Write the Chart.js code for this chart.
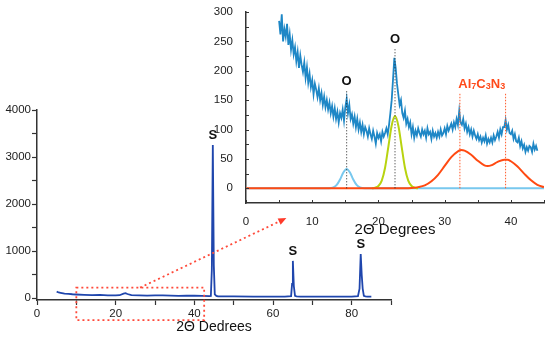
<!DOCTYPE html>
<html lang="en">
<head>
<meta charset="UTF-8">
<title>XRD pattern</title>
<script src="https://cdn.jsdelivr.net/npm/chart.js"></script>
<style>
    body { margin: 0; background: #fff; }
    .wrap { position: relative; width: 550px; height: 337px; overflow: hidden; }
    #mainChart { position: absolute; left: 0; top: 0; }
    #insetChart { position: absolute; left: 200px; top: 0; }
</style>
</head>
<body>
<div class="wrap">
    <canvas id="mainChart" width="550" height="337"></canvas>
    <canvas id="insetChart" width="350" height="240"></canvas>
</div>
<script>
// full pattern (2-theta, counts)
var mainAngle = [5, 5.5, 6, 7, 8, 9, 10, 12, 14, 16, 18, 20, 21, 22, 22.5, 23, 24, 26, 28, 30, 32, 34, 36, 38, 40, 42,
    43.8, 44.2, 44.45, 44.7, 44.95, 45.2, 45.6, 46, 48, 50, 55, 60, 63,
    64.6, 64.85, 65.05, 65.3, 65.6, 66, 67, 70, 75, 80,
    81.6, 82.0, 82.3, 82.55, 82.8, 83.1, 83.5, 84, 85];
var mainCounts = [135, 118, 110, 95, 88, 80, 75, 68, 62, 65, 55, 55, 60, 95, 105, 85, 60, 55, 50, 55, 55, 50, 45, 50, 48, 45,
    40, 45, 600, 3255, 700, 80, 45, 38, 35, 35, 30, 30, 30,
    40, 300, 790, 250, 45, 35, 30, 30, 30, 30,
    40, 200, 935, 500, 200, 45, 35, 30, 30];
var mainXTicks = [0, 10, 20, 30, 40, 50, 60, 70, 80, 90];
var mainXLabels = [0, 20, 40, 60, 80];
var mainYTicks = [0, 500, 1000, 1500, 2000, 2500, 3000, 3500, 4000];
var mainYLabels = [0, 1000, 2000, 3000, 4000];
var sPeakAngle = [44.7, 65.05, 82.3];
var sPeakCounts = [3255, 790, 935];
// zoom box and arrow, in main chart units
var boxAngle = [10, 42.5];
var boxCounts = [-470, 220];
var arrowAngle = [26.2, 63.4];
var arrowCounts = [220, 1700];

// inset: low angle region, step 0.2 from 5
var insetStart = 5, insetStep = 0.2;
var insetCounts = [
    285, 262, 296, 250, 271, 258, 280, 244, 262, 236,
    252, 228, 240, 216, 232, 205, 226, 210, 198, 214,
    188, 206, 180, 195, 172, 184, 160, 178, 168, 155,
    170, 150, 162, 142, 156, 138, 150, 134, 146, 128,
    140, 122, 136, 118, 130, 112, 128, 120, 134, 115,
    138, 152, 128, 142, 118, 126, 110, 122, 104, 118,
    100, 112, 96, 108, 92, 104, 98, 88, 102, 92,
    84, 98, 88, 76, 94, 86, 92, 80, 96, 88,
    94, 102, 92, 108, 128, 150, 185, 222, 205, 178,
    160, 142, 150, 128, 120, 132, 110, 118, 104, 112,
    92, 104, 86, 98, 90, 102, 94, 88, 100, 92,
    98, 86, 102, 92, 96, 84, 98, 88, 94, 86,
    96, 88, 100, 90, 94, 102, 92, 106, 98, 104,
    110, 100, 112, 104, 118, 108, 132, 112, 108, 118,
    102, 110, 96, 104, 92, 100, 88, 98, 90, 84,
    92, 82, 88, 78, 86, 80, 90, 76, 84, 78,
    86, 78, 90, 82, 88, 96, 86, 100, 92, 104,
    104, 116, 100, 108, 94, 92, 98, 84, 92, 80,
    78, 86, 72, 80, 68, 74, 62, 70, 64, 72,
    70, 62, 76, 66, 72, 64];
var fitBlueX = [0, 12.5, 13.2, 13.7, 14.2, 14.7, 15.2, 15.7, 16.2, 16.7, 17.2, 17.9, 45];
var fitBlueY = [0, 0, 1.5, 5.7, 15, 27, 33, 27, 15, 5.7, 1.5, 0, 0];
var fitGreenX = [19, 19.5, 20, 20.5, 21, 21.5, 22, 22.5, 23, 23.5, 24, 24.5, 25, 25.5, 26];
var fitGreenY = [0, 1, 4, 13, 35, 71, 107, 123, 107, 71, 35, 13, 4, 1, 0];
var fitOrangeX = [0, 24, 25, 26, 27, 28, 29, 30, 31, 32, 32.5, 33, 34, 35, 36, 36.5, 37, 38, 39, 39.5, 40, 41, 42, 43, 44, 45];
var fitOrangeY = [0, 0, 0.5, 2, 5, 12, 23, 38, 53, 63, 65, 64, 57, 47, 39, 38, 39, 45, 48.5, 48.5, 46, 37, 25, 14, 6, 2];
var oPeakAngle = [15.2, 22.5];
var oLineTop = [166, 237];
var alPeakAngle = [32.3, 39.2];
var alLineTop = [161, 161];
var alLabelAngle = 35.6, alLabelCounts = 180;
var insetXTicks = [0, 5, 10, 15, 20, 25, 30, 35, 40, 45];
var insetXLabels = [0, 10, 20, 30, 40];
var insetYTicks = [0, 25, 50, 75, 100, 125, 150, 175, 200, 225, 250, 275, 300];
var insetYLabels = [0, 50, 100, 150, 200, 250, 300];

var FONT = '"Liberation Sans", Arial, sans-serif';

function pairs(xs, ys) {
    return xs.map(function (x, i) { return { x: x, y: ys[i] }; });
}

var mainExtras = {
    id: 'mainExtras',
    afterDraw: function (chart) {
        var ctx = chart.ctx, xs = chart.scales.x, ys = chart.scales.y;
        ctx.save();
        ctx.font = 'bold 13px ' + FONT;
        ctx.fillStyle = '#111';
        ctx.textAlign = 'center';
        ctx.textBaseline = 'bottom';
        for (var i = 0; i < sPeakAngle.length; i++) {
            ctx.fillText('S', xs.getPixelForValue(sPeakAngle[i]), ys.getPixelForValue(sPeakCounts[i]) - 3);
        }
        // dotted zoom box
        ctx.strokeStyle = '#ff4a3a';
        ctx.lineWidth = 1.8;
        ctx.setLineDash([2, 3]);
        var bx0 = xs.getPixelForValue(boxAngle[0]), bx1 = xs.getPixelForValue(boxAngle[1]);
        var by0 = ys.getPixelForValue(boxCounts[1]), by1 = ys.getPixelForValue(boxCounts[0]);
        ctx.strokeRect(bx0, by0, bx1 - bx0, by1 - by0);
        // dotted arrow to the inset
        var ax0 = xs.getPixelForValue(arrowAngle[0]), ay0 = ys.getPixelForValue(arrowCounts[0]);
        var ax1 = xs.getPixelForValue(arrowAngle[1]), ay1 = ys.getPixelForValue(arrowCounts[1]);
        var ang = Math.atan2(ay1 - ay0, ax1 - ax0);
        ctx.beginPath();
        ctx.moveTo(ax0, ay0);
        ctx.lineTo(ax1 - 6 * Math.cos(ang), ay1 - 6 * Math.sin(ang));
        ctx.stroke();
        ctx.setLineDash([]);
        ctx.fillStyle = '#ff3a2a';
        ctx.beginPath();
        ctx.moveTo(ax1, ay1);
        ctx.lineTo(ax1 - 8 * Math.cos(ang) + 3.5 * Math.sin(ang), ay1 - 8 * Math.sin(ang) - 3.5 * Math.cos(ang));
        ctx.lineTo(ax1 - 8 * Math.cos(ang) - 3.5 * Math.sin(ang), ay1 - 8 * Math.sin(ang) + 3.5 * Math.cos(ang));
        ctx.closePath();
        ctx.fill();
        ctx.restore();
    }
};

var insetExtras = {
    id: 'insetExtras',
    afterDraw: function (chart) {
        var ctx = chart.ctx, xs = chart.scales.x, ys = chart.scales.y, area = chart.chartArea;
        ctx.save();
        // inward ticks
        ctx.strokeStyle = '#333';
        ctx.lineWidth = 1;
        ctx.beginPath();
        xs.ticks.forEach(function (t) {
            var p = Math.round(xs.getPixelForValue(t.value)) + 0.5;
            ctx.moveTo(p, area.bottom);
            ctx.lineTo(p, area.bottom - 3);
        });
        ys.ticks.forEach(function (t) {
            var p = Math.round(ys.getPixelForValue(t.value)) + 0.5;
            ctx.moveTo(area.left, p);
            ctx.lineTo(area.left + 3, p);
        });
        ctx.stroke();
        // O labels
        ctx.font = 'bold 13px ' + FONT;
        ctx.fillStyle = '#111';
        ctx.textAlign = 'center';
        ctx.textBaseline = 'bottom';
        for (var i = 0; i < oPeakAngle.length; i++) {
            ctx.fillText('O', xs.getPixelForValue(oPeakAngle[i]), ys.getPixelForValue(oLineTop[i]) - 3);
        }
        // Al7C3N3 label
        var parts = [['Al', 13], ['7', 9], ['C', 13], ['3', 9], ['N', 13], ['3', 9]];
        var total = 0;
        parts.forEach(function (p) {
            ctx.font = 'bold ' + p[1] + 'px ' + FONT;
            total += ctx.measureText(p[0]).width;
        });
        var cx = xs.getPixelForValue(alLabelAngle) - total / 2;
        var by = ys.getPixelForValue(alLabelCounts) + 5;
        ctx.fillStyle = '#ff4a1a';
        ctx.textAlign = 'left';
        ctx.textBaseline = 'alphabetic';
        parts.forEach(function (p) {
            ctx.font = 'bold ' + p[1] + 'px ' + FONT;
            ctx.fillText(p[0], cx, p[1] < 13 ? by + 1 : by);
            cx += ctx.measureText(p[0]).width;
        });
        ctx.restore();
    }
};

var mainData = pairs(mainAngle, mainCounts);

new Chart(document.getElementById('mainChart'), {
    type: 'line',
    data: {
        datasets: [{
            data: mainData,
            borderColor: '#1f46ad',
            borderWidth: 1.8,
            pointRadius: 0,
            tension: 0
        }]
    },
    options: {
        responsive: false,
        animation: false,
        devicePixelRatio: 1,
        layout: { padding: { left: 0, top: 110, right: 159, bottom: 0 } },
        plugins: { legend: { display: false }, tooltip: { enabled: false } },
        scales: {
            x: {
                type: 'linear', min: 0, max: 90,
                afterBuildTicks: function (s) { s.ticks = mainXTicks.map(function (v) { return { value: v }; }); },
                afterFit: function (s) { s.height = 37; },
                grid: { drawOnChartArea: false, color: '#333', tickLength: 5, tickWidth: 1.2 },
                border: { color: '#333', width: 1.5 },
                ticks: {
                    autoSkip: false, maxRotation: 0, padding: 2, color: '#222',
                    font: { size: 11.5, family: FONT },
                    callback: function (v) { return mainXLabels.indexOf(v) >= 0 ? v : ''; }
                },
                title: { display: true, text: '2Θ Dedrees', color: '#111', font: { size: 14, family: FONT }, padding: { top: 0, bottom: 1 } }
            },
            y: {
                type: 'linear', min: -42, max: 4000,
                afterBuildTicks: function (s) { s.ticks = mainYTicks.map(function (v) { return { value: v }; }); },
                afterFit: function (s) { s.width = 37; },
                grid: { drawOnChartArea: false, color: '#333', tickLength: 5, tickWidth: 1.2 },
                border: { color: '#333', width: 1.5 },
                ticks: {
                    autoSkip: false, padding: 1, color: '#222',
                    font: { size: 11.5, family: FONT },
                    callback: function (v) { return mainYLabels.indexOf(v) >= 0 ? v : ''; }
                }
            }
        }
    },
    plugins: [mainExtras]
});

var insetData = insetCounts.map(function (c, i) {
    return { x: insetStart + i * insetStep, y: c };
});

var dotted = [];
oPeakAngle.forEach(function (a, i) {
    dotted.push({ data: [{ x: a, y: 0 }, { x: a, y: oLineTop[i] }], borderColor: '#222', borderWidth: 1, borderDash: [1, 2], pointRadius: 0 });
});
alPeakAngle.forEach(function (a, i) {
    dotted.push({ data: [{ x: a, y: 0 }, { x: a, y: alLineTop[i] }], borderColor: '#ff5a2a', borderWidth: 1, borderDash: [1.5, 1.5], pointRadius: 0 });
});

new Chart(document.getElementById('insetChart'), {
    type: 'line',
    data: {
        datasets: dotted.concat([
            { data: insetData, borderColor: '#1e87c6', borderWidth: 1.8, pointRadius: 0, tension: 0 },
            { data: pairs(fitOrangeX, fitOrangeY), borderColor: '#ff4a12', borderWidth: 2, pointRadius: 0, cubicInterpolationMode: 'monotone' },
            { data: pairs(fitGreenX, fitGreenY), borderColor: '#b8d30f', borderWidth: 2, pointRadius: 0, cubicInterpolationMode: 'monotone' },
            { data: pairs(fitBlueX, fitBlueY), borderColor: '#78c8ee', borderWidth: 2, pointRadius: 0, cubicInterpolationMode: 'monotone' }
        ])
    },
    options: {
        responsive: false,
        animation: false,
        devicePixelRatio: 1,
        layout: { padding: { left: 0, top: 12, right: 6, bottom: 0 } },
        plugins: { legend: { display: false }, tooltip: { enabled: false } },
        scales: {
            x: {
                type: 'linear', min: 0, max: 45,
                afterBuildTicks: function (s) { s.ticks = insetXTicks.map(function (v) { return { value: v }; }); },
                afterFit: function (s) { s.height = 37; },
                grid: { display: false },
                border: { color: '#333', width: 1.5 },
                ticks: {
                    autoSkip: false, maxRotation: 0, padding: 4, color: '#222',
                    font: { size: 11.5, family: FONT },
                    callback: function (v) { return insetXLabels.indexOf(v) >= 0 ? v : ''; }
                },
                title: { display: true, text: '2Θ Degrees', color: '#111', font: { size: 15, family: FONT }, padding: { top: 0, bottom: 1 } }
            },
            y: {
                type: 'linear', min: -25, max: 300,
                afterBuildTicks: function (s) { s.ticks = insetYTicks.map(function (v) { return { value: v }; }); },
                afterFit: function (s) { s.width = 46; },
                grid: { display: false },
                border: { color: '#333', width: 1.5 },
                ticks: {
                    autoSkip: false, padding: 5, color: '#222',
                    font: { size: 11.5, family: FONT },
                    callback: function (v) { return insetYLabels.indexOf(v) >= 0 ? v : ''; }
                }
            }
        }
    },
    plugins: [insetExtras]
});
</script>
</body>
</html>
